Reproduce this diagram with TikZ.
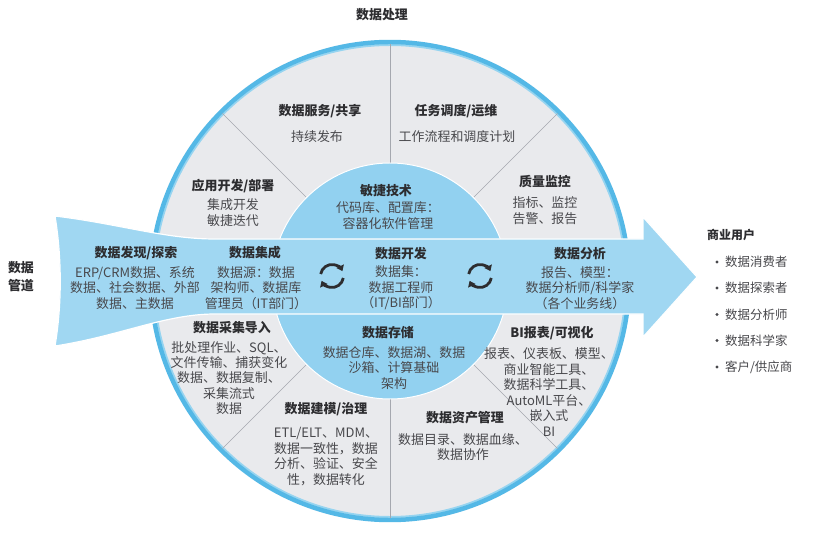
\documentclass[tikz,border=0pt]{standalone}
\usepackage{fontspec}
\setmainfont{Noto Sans CJK SC}
\usetikzlibrary{arrows.meta}
\definecolor{ringblue}{RGB}{84,184,230}
\definecolor{ringlight}{RGB}{150,212,240}
\definecolor{bandblue}{RGB}{160,215,242}
\definecolor{coreblue}{RGB}{146,209,240}
\definecolor{sectorgray}{RGB}{233,234,237}
\definecolor{divgray}{RGB}{165,168,175}
\definecolor{headc}{RGB}{45,45,48}
\definecolor{bodyc}{RGB}{72,72,76}
\begin{document}
\begin{tikzpicture}[x=1bp,y=-1bp,
  head/.style={font=\fontsize{13}{15.5}\selectfont\bfseries, text=headc, align=center, inner sep=0pt, anchor=center},
  body/.style={font=\fontsize{13}{15.5}\selectfont, text=bodyc, align=center, inner sep=0pt, anchor=center},
  listitem/.style={font=\fontsize{12.5}{15}\selectfont, text=bodyc, inner sep=0pt, anchor=west},
  divider/.style={draw=divgray, line width=0.6bp},
  syncarrow/.style={draw=headc, line width=2.8bp, -{Triangle[length=5.5bp,width=8bp]}},
]
\useasboundingbox (0,0) rectangle (825,544);
\fill[white] (0,0) rectangle (825,544);

\coordinate (O) at (390,281);
\coordinate (s1) at (332,276);
\coordinate (s2) at (480,276);

% disk and ring
\fill[sectorgray] (O) circle (237);
\draw[ringlight, line width=2] (O) circle (236);
\draw[ringblue, line width=4.5] (O) circle (239);

% dividers
\foreach \a in {45,90,135,225,270,315}
  \draw[divider] ([shift={(\a:118)}]O) -- ([shift={(\a:237)}]O);

% inner circle
\fill[coreblue, draw=white, line width=1] (O) circle (118);

% band / arrow
\path[fill=bandblue, draw=white, line width=1.2]
  (55,216) .. controls (120,224) and (165,239) .. (215,239)
  -- (643,239) -- (643,217) -- (697,277) -- (643,337) -- (643,314)
  -- (215,314) .. controls (165,314) and (120,336) .. (55,346)
  .. controls (62,305) and (62,258) .. (55,216) -- cycle;

% top labels
\node[head] (proc) at (382,15) {数据处理};
\node[head] (svc) at (320,111) {数据服务/共享};
\node[body] (svcb) at (317,137) {持续发布};
\node[head] (task) at (456,111) {任务调度/运维};
\node[body] (taskb) at (457,137) {工作流程和调度计划};
\node[head] (app) at (233,186) {应用开发/部署};
\node[body] (appb) at (233,212.5) {集成开发\\敏捷迭代};
\node[head] (qa) at (545,182) {质量监控};
\node[body] (qab) at (545,210.5) {指标、监控\\告警、报告};
\node[head] (agile) at (386,191) {敏捷技术};
\node[body] (agileb) at (388,215.5) {代码库、配置库：\\容器化软件管理};

% band labels
\node[head] (pipe) at (21,276.5) {数据\\[3bp]管道};
\node[head] (disc) at (136,253) {数据发现/探索};
\node[body] (discb) at (135,288) {ERP/CRM数据、系统\\数据、社会数据、外部\\数据、主数据};
\node[head] (integ) at (255,253) {数据集成};
\node[body] (integb) at (256,288) {数据源：数据\\架构师、数据库\\管理员（IT部门）};
\node[head] (dev) at (401,254) {数据开发};
\node[body] (devb) at (401,288) {数据集：\\数据工程师\\（IT/BI部门）};
\node[head] (ana) at (580,254) {数据分析};
\node[body] (anab) at (580,288) {报告、模型：\\数据分析师/科学家\\（各个业务线）};

% sync icons
\draw[syncarrow] ([shift={(190:11.5)}]s1) arc[start angle=190, end angle=335, radius=11.5];
\draw[syncarrow] ([shift={(10:11.5)}]s1) arc[start angle=10, end angle=155, radius=11.5];
\draw[syncarrow] ([shift={(190:11.5)}]s2) arc[start angle=190, end angle=335, radius=11.5];
\draw[syncarrow] ([shift={(10:11.5)}]s2) arc[start angle=10, end angle=155, radius=11.5];

% bottom labels
\node[head] (store) at (388,333) {数据存储};
\node[body] (storeb) at (394,368) {数据仓库、数据湖、数据\\沙箱、计算基础\\架构};
\node[head] (ingest) at (232,328) {数据采集导入};
\node[body] (ingestb) at (229,378) {批处理作业、SQL、\\文件传输、捕获变化\\数据、数据复制、\\采集流式\\数据};
\node[head] (model) at (326,409) {数据建模/治理};
\node[body] (modelb) at (326,456.5) {ETL/ELT、MDM、\\数据一致性，数据\\分析、验证、安全\\性，数据转化};
\node[head] (asset) at (465,418) {数据资产管理};
\node[body] (assetb) at (463,447) {数据目录、数据血缘、\\数据协作};
\node[head] (bi) at (552,333) {BI报表/可视化};
\node[body] (bib) at (549,392) {报表、仪表板、模型、\\商业智能工具、\\数据科学工具、\\AutoML平台、\\嵌入式\\BI};

% right list
\node[head, anchor=west, font=\fontsize{12}{14}\selectfont\bfseries] (users) at (707,235) {商业用户};
\foreach \y/\t/\n in {262/{数据消费者}/u1, 288/{数据探索者}/u2, 314.5/{数据分析师}/u3, 340.5/{数据科学家}/u4, 367/{客户/供应商}/u5}{
  \fill[bodyc] (717,\y) circle (1.7);
  \node[listitem] (\n) at (725,\y) {\t};
}
\end{tikzpicture}
\end{document}
